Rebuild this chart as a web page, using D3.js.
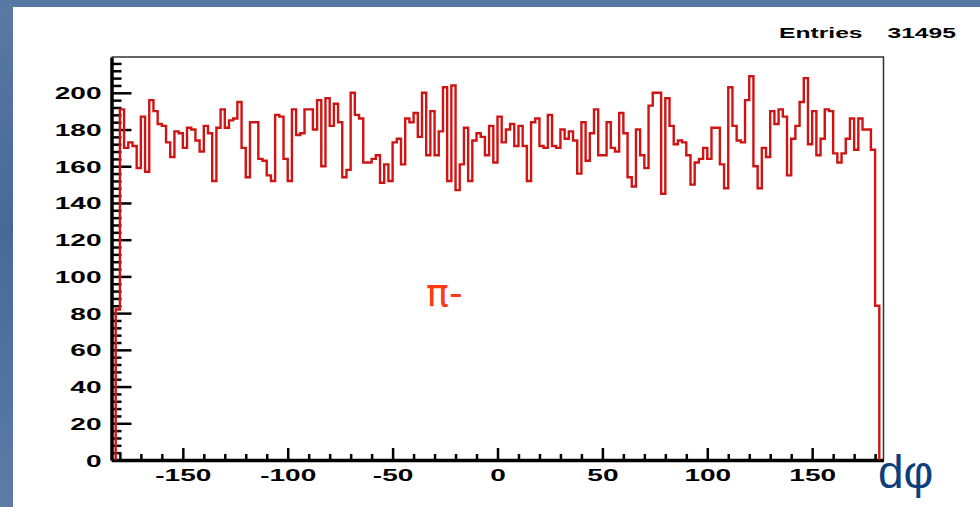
<!DOCTYPE html>
<html>
<head>
<meta charset="utf-8">
<script src="https://cdn.jsdelivr.net/npm/d3@7"></script>
<style>
  html, body { margin: 0; padding: 0; background: #fff; }
  svg { display: block; }
  .tick text { font-family: "Liberation Sans", Arial, sans-serif; font-weight: bold; fill: #000; }
</style>
</head>
<body>
<div id="chart"></div>
<script>
const WIDTH = 980, HEIGHT = 507;
const PLOT = { LEFT: 111.5, RIGHT: 883.5, TOP: 57, BOTTOM: 460 };
const STRETCH = 1.7; // the picture is stretched sideways, so are its labels

// d-phi histogram, 2 degree bins starting at -182
const binLow = -182;
const binWidth = 2;
const counts = [
  82,
  191,170,173,171,159,187,157,196,190,183,182,173,165,179,178,170,181,180,174,168,
  182,178,152,181,191,181,185,186,195,170,154,184,184,164,
  163,155,152,188,187,164,152,191,177,178,191,191,180,196,160,197,182,194,184,154,
  158,200,188,186,162,162,164,166,151,161,152,173,175,161,186,184,189,
  176,200,166,190,166,179,203,152,204,147,161,181,152,174,178,176,166,182,162,187,
  173,180,183,171,182,171,152,184,186,171,170,188,171,170,180,175,
  179,174,156,184,163,178,191,166,166,184,170,168,189,178,154,149,180,166,159,193,
  200,200,145,197,182,172,174,173,166,150,162,164,170,164,181,181,161,148,
  203,182,174,173,196,209,160,148,170,165,190,183,191,187,155,175,182,195,208,172,
  190,166,175,191,190,167,162,167,175,186,169,186,180,180,169,
  84
];
const entries = 31495;

const xDomain = [-184, 184];
const yDomain = [0, 219.5];
const xTicks = [-150, -100, -50, 0, 50, 100, 150];
const xMinor = d3.range(-180, 181, 10).filter(v => v % 50 !== 0);
const yTicks = [0, 20, 40, 60, 80, 100, 120, 140, 160, 180, 200];
const yMinor = d3.range(0, 219, 4).filter(v => v % 20 !== 0);

const svg = d3.select('#chart').append('svg')
  .attr('width', WIDTH)
  .attr('height', HEIGHT);

// slide background
const grad = svg.append('defs').append('linearGradient')
  .attr('id', 'blue').attr('x1', 0).attr('y1', 0).attr('x2', 0).attr('y2', 1);
grad.append('stop').attr('offset', '0%').attr('stop-color', '#5a7aa3');
grad.append('stop').attr('offset', '45%').attr('stop-color', '#47699a');
grad.append('stop').attr('offset', '100%').attr('stop-color', '#5b7ca6');

svg.append('rect').attr('width', WIDTH).attr('height', HEIGHT).attr('fill', '#fff');
svg.append('rect').attr('x', 0).attr('y', 0).attr('width', 13).attr('height', HEIGHT).attr('fill', 'url(#blue)');
svg.append('rect').attr('x', 0).attr('y', 0).attr('width', WIDTH).attr('height', 7).attr('fill', '#5678a2');

const x = d3.scaleLinear().domain(xDomain).range([PLOT.LEFT, PLOT.RIGHT]);
const y = d3.scaleLinear().domain(yDomain).range([PLOT.BOTTOM, PLOT.TOP]);

// frame top + right
svg.append('path')
  .attr('d', `M${PLOT.LEFT},${PLOT.TOP}H${PLOT.RIGHT}V${PLOT.BOTTOM}`)
  .attr('fill', 'none')
  .attr('stroke', '#333')
  .attr('stroke-width', 1.5);

// minor ticks
svg.append('g')
  .attr('transform', `translate(0,${PLOT.BOTTOM})`)
  .call(d3.axisBottom(x).tickValues(xMinor).tickSize(-6).tickSizeOuter(0).tickFormat(''))
  .call(g => g.select('.domain').remove())
  .call(g => g.selectAll('line').attr('stroke-width', 2.5));

svg.append('g')
  .attr('transform', `translate(${PLOT.LEFT},0)`)
  .call(d3.axisLeft(y).tickValues(yMinor).tickSize(-10).tickSizeOuter(0).tickFormat(''))
  .call(g => g.select('.domain').remove())
  .call(g => g.selectAll('line').attr('stroke-width', 2.5));

// major axes (plain hyphen for negatives, like ROOT)
const xAxis = svg.append('g')
  .attr('transform', `translate(0,${PLOT.BOTTOM})`)
  .call(d3.axisBottom(x).tickValues(xTicks).tickSize(-12).tickSizeOuter(0).tickPadding(21)
    .tickFormat(d => String(d)))
  .call(g => g.select('.domain').attr('stroke-width', 3.5))
  .call(g => g.selectAll('line').attr('stroke-width', 2.5));
xAxis.selectAll('text')
  .attr('font-size', 16.5)
  .attr('dy', 0)
  .attr('transform', `scale(${STRETCH},1)`);

const yAxis = svg.append('g')
  .attr('transform', `translate(${PLOT.LEFT},0)`)
  .call(d3.axisLeft(y).tickValues(yTicks).tickSize(-20).tickSizeOuter(0))
  .call(g => g.select('.domain').attr('stroke-width', 3.5))
  .call(g => g.selectAll('line').attr('stroke-width', 2.5));
yAxis.selectAll('text')
  .attr('font-size', 16.5)
  .attr('x', -10 / STRETCH)
  .attr('dy', 6)
  .attr('transform', `scale(${STRETCH},1)`);

// histogram outline
const pts = [[binLow, 0]];
counts.forEach((c, i) => {
  const lo = binLow + i * binWidth;
  pts.push([lo, c], [lo + binWidth, c]);
});
pts.push([binLow + counts.length * binWidth, 0]);

svg.append('path')
  .datum(pts)
  .attr('fill', 'none')
  .attr('stroke', '#d01414')
  .attr('stroke-width', 2.4)
  .attr('d', d3.line().x(d => x(d[0])).y(d => y(d[1])));

// stats box text
const statFont = 'Liberation Sans, Arial, sans-serif';
svg.append('text')
  .attr('transform', `translate(779,38) scale(${STRETCH},1)`)
  .attr('font-family', statFont).attr('font-weight', 'bold').attr('font-size', 14.5)
  .text('Entries');
svg.append('text')
  .attr('transform', `translate(956,38) scale(${STRETCH},1)`)
  .attr('text-anchor', 'end')
  .attr('font-family', statFont).attr('font-weight', 'bold').attr('font-size', 14.5)
  .text(entries);

// slide annotations
svg.append('text')
  .attr('x', 426).attr('y', 306)
  .attr('font-family', 'DejaVu Sans, sans-serif')
  .attr('font-size', 38)
  .attr('fill', '#ff3a12')
  .text('π-');

svg.append('text')
  .attr('x', 878).attr('y', 488)
  .attr('font-family', 'Liberation Sans, Arial, sans-serif')
  .attr('font-size', 46)
  .attr('fill', '#0d3f7c')
  .text('dφ');
</script>
</body>
</html>
